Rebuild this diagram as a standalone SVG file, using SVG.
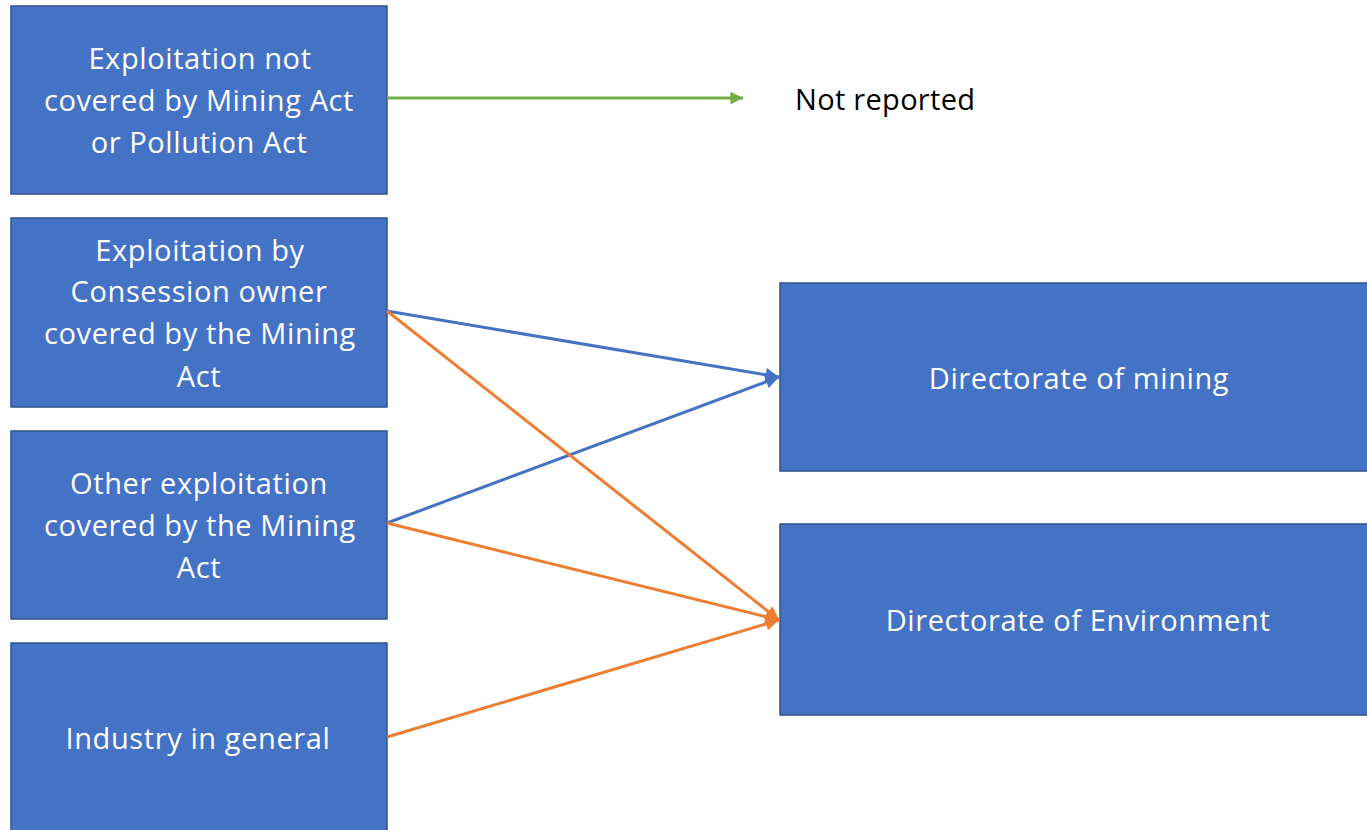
<svg xmlns="http://www.w3.org/2000/svg" width="1367" height="830" viewBox="0 0 1367 830">
<style>
.box{fill:#4472C4;stroke:#2F528F;stroke-width:1.5}
.t{font-family:"Open Sans","Noto Sans",sans-serif;font-size:29px;letter-spacing:0.6px;fill:#ffffff;text-anchor:middle}
.k{font-family:"Open Sans","Noto Sans",sans-serif;font-size:29px;letter-spacing:0.3px;fill:#000000}
.c{fill:none;stroke-width:3}
</style>
<defs>
<marker id="ag" viewBox="0 0 10 10" refX="10" refY="5" markerWidth="5" markerHeight="4.2" orient="auto" markerUnits="strokeWidth"><path d="M0,0L10,5L0,10z" fill="#70AD47"/></marker>
<marker id="ab" viewBox="0 0 10 10" refX="10" refY="5" markerWidth="5.5" markerHeight="4.5" orient="auto" markerUnits="strokeWidth"><path d="M0,0L10,5L0,10z" fill="#4472C4"/></marker>
<marker id="ao" viewBox="0 0 10 10" refX="10" refY="5" markerWidth="5.5" markerHeight="4.5" orient="auto" markerUnits="strokeWidth"><path d="M0,0L10,5L0,10z" fill="#ED7D31"/></marker>
</defs>
<g id="n1"><rect class="box" x="11" y="6" width="376" height="188"/>
<text class="t" x="200" y="69">Exploitation not</text>
<text class="t" x="199" y="111">covered by Mining Act</text>
<text class="t" x="199" y="153">or Pollution Act</text></g>
<g id="n2"><rect class="box" x="11" y="218" width="376" height="189"/>
<text class="t" x="200" y="261">Exploitation by</text>
<text class="t" x="199" y="302">Consession owner</text>
<text class="t" x="200" y="344">covered by the Mining</text>
<text class="t" x="199" y="387">Act</text></g>
<g id="n3"><rect class="box" x="11" y="431" width="376" height="188"/>
<text class="t" x="199" y="494">Other exploitation</text>
<text class="t" x="200" y="536">covered by the Mining</text>
<text class="t" x="199" y="578">Act</text></g>
<g id="n4"><rect class="box" x="11" y="643" width="376" height="190"/>
<text class="t" x="198" y="749">Industry in general</text></g>
<g id="n5"><rect class="box" x="780" y="283" width="592" height="188"/>
<text class="t" x="1079" y="389">Directorate of mining</text></g>
<g id="n6"><rect class="box" x="780" y="524" width="592" height="191"/>
<text class="t" x="1078" y="631">Directorate of Environment</text></g>
<g id="n7"><text class="k" x="795" y="110">Not reported</text></g>
<g id="connectors">
<line class="c" x1="387" y1="98" x2="743" y2="98" stroke="#70AD47" marker-end="url(#ag)"/>
<line class="c" x1="387" y1="311" x2="779" y2="377" stroke="#4472C4" marker-end="url(#ab)"/>
<line class="c" x1="387" y1="523" x2="779" y2="377" stroke="#4472C4" marker-end="url(#ab)"/>
<line class="c" x1="387" y1="311" x2="779" y2="620" stroke="#ED7D31" marker-end="url(#ao)"/>
<line class="c" x1="387" y1="523" x2="779" y2="620" stroke="#ED7D31" marker-end="url(#ao)"/>
<line class="c" x1="387" y1="737" x2="779" y2="620" stroke="#ED7D31" marker-end="url(#ao)"/>
</g>
</svg>
